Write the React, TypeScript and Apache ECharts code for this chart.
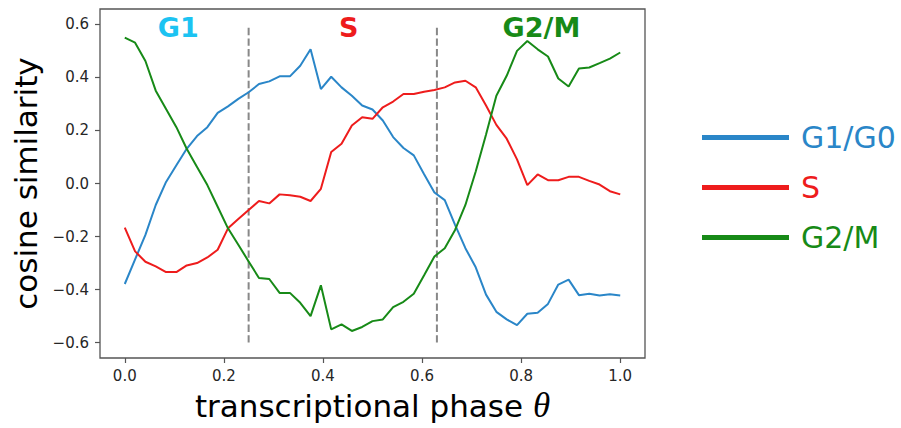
import React, { useEffect, useRef } from "react";
import * as echarts from "echarts";

// Cosine similarity of each cell-cycle signature against transcriptional phase (49 samples on [0, 1])
const g1g0: number[] = [
  -0.379, -0.286, -0.194, -0.081, 0.006, 0.069, 0.131, 0.179, 0.2125, 0.266,
  0.291, 0.319, 0.344, 0.375, 0.385, 0.404, 0.404, 0.444, 0.506, 0.356,
  0.4025, 0.3625, 0.331, 0.294, 0.279, 0.2375, 0.175, 0.134, 0.106, 0.035,
  -0.034, -0.0625, -0.156, -0.244, -0.316, -0.419, -0.484, -0.5125, -0.534, -0.491,
  -0.4875, -0.454, -0.381, -0.3625, -0.421, -0.416, -0.4225, -0.418, -0.4225,
];
const sPhase: number[] = [
  -0.166, -0.256, -0.295, -0.3125, -0.334, -0.334, -0.309, -0.3, -0.279, -0.25,
  -0.169, -0.134, -0.1, -0.066, -0.075, -0.041, -0.044, -0.05, -0.066, -0.02,
  0.119, 0.15, 0.219, 0.25, 0.244, 0.2875, 0.309, 0.3375, 0.3375, 0.346,
  0.3525, 0.3625, 0.381, 0.3875, 0.3625, 0.294, 0.221, 0.169, 0.091, -0.006,
  0.034, 0.0125, 0.0125, 0.025, 0.025, 0.01, -0.004, -0.029, -0.041,
];
const g2m: number[] = [
  0.55, 0.531, 0.462, 0.35, 0.281, 0.2125, 0.131, 0.0625, -0.006, -0.0875,
  -0.169, -0.231, -0.294, -0.356, -0.36, -0.4125, -0.4125, -0.45, -0.5, -0.384,
  -0.55, -0.531, -0.556, -0.541, -0.519, -0.5125, -0.466, -0.446, -0.416, -0.346,
  -0.275, -0.244, -0.175, -0.081, 0.045, 0.185, 0.331, 0.406, 0.5, 0.5375,
  0.506, 0.479, 0.396, 0.366, 0.434, 0.4375, 0.454, 0.471, 0.494,
];
// evenly spaced phase grid
const phase: number[] = g1g0.map((_, i) => i / 48);

const seriesNames = ["G1/G0", "S", "G2/M"];
const seriesColors = ["#2a86c8", "#ee1c1c", "#178a17"];

// phase boundaries (dashed) spanning these similarity values
const boundaries: number[] = [0.25, 0.63];
const boundarySpan: number[] = [-0.6, 0.6];

// phase annotations at the top of the plot
const phaseLabels = ["G1", "S", "G2/M"];
const phaseLabelX: number[] = [0.108, 0.452, 0.841];
const phaseLabelY = 0.59;
const phaseLabelColors = ["#1cc3f2", "#ee1c1c", "#178a17"];

const xTicks: number[] = [0, 0.2, 0.4, 0.6, 0.8, 1.0];
const yTicks: number[] = [-0.6, -0.4, -0.2, 0, 0.2, 0.4, 0.6];

const fmt = (v: number) => v.toFixed(1).replace("-", "\u2212");

export default function App() {
  const ref = useRef<HTMLDivElement>(null);

  useEffect(() => {
    if (!ref.current) return;
    const chart = echarts.init(ref.current, undefined, { renderer: "svg" });
    const frame = "#555555";
    const tickText = { color: "#262626", fontSize: 15, fontFamily: "DejaVu Sans" };

    const dataSeries = [g1g0, sPhase, g2m].map((vals, k) => ({
      name: seriesNames[k],
      type: "line",
      data: vals.map((v, i) => [phase[i], v]),
      showSymbol: false,
      symbol: "none",
      lineStyle: { width: 2, color: seriesColors[k] },
      itemStyle: { color: seriesColors[k] },
      z: 3,
    }));

    const boundarySeries = boundaries.map((b) => ({
      name: "boundary",
      type: "line",
      data: boundarySpan.map((y) => [b, y]),
      symbol: "none",
      lineStyle: { width: 2, color: "#888888", type: [7.4, 3.2] },
      silent: true,
      z: 2,
    }));

    const labelSeries = {
      name: "phases",
      type: "scatter",
      symbolSize: 1,
      itemStyle: { color: "#ffffff", opacity: 1 },
      silent: true,
      data: phaseLabels.map((t, i) => ({
        name: t,
        value: [phaseLabelX[i], phaseLabelY],
        label: {
          show: true,
          position: "inside",
          formatter: t,
          color: phaseLabelColors[i],
          opacity: 1,
          textBorderWidth: 0,
          textBorderColor: "transparent",
          fontSize: 27,
          fontWeight: "bold",
          fontFamily: "DejaVu Sans",
        },
      })),
      z: 4,
    };

    chart.setOption({
      animation: false,
      backgroundColor: "#ffffff",
      grid: {
        left: 100,
        right: 256,
        top: 9,
        bottom: 66,
        show: true,
        borderColor: frame,
        borderWidth: 1.3,
        backgroundColor: "transparent",
      },
      legend: {
        orient: "vertical",
        left: 697,
        top: 117,
        icon: "rect",
        itemWidth: 87,
        itemHeight: 5,
        itemGap: 19,
        data: seriesNames.map((n, k) => ({
          name: n,
          textStyle: { color: seriesColors[k] },
        })),
        textStyle: {
          fontSize: 30,
          lineHeight: 31,
          fontFamily: "DejaVu Sans",
          padding: [0, 0, 0, 7],
        },
      },
      xAxis: {
        type: "value",
        min: -0.05,
        max: 1.05,
        name: "transcriptional phase {t|\u03b8}",
        nameLocation: "middle",
        nameGap: 32,
        nameTextStyle: {
          fontSize: 31,
          lineHeight: 31,
          color: "#000",
          fontFamily: "DejaVu Sans",
          rich: {
            t: {
              fontSize: 35,
              fontStyle: "italic",
              fontFamily: "Liberation Serif",
              color: "#000",
            },
          },
        },
        axisLine: { show: false, onZero: false },
        splitLine: { show: false },
        axisTick: {
          show: true,
          length: 5,
          lineStyle: { color: frame, width: 1.2 },
          customValues: xTicks,
        },
        axisLabel: {
          ...tickText,
          margin: 10,
          customValues: xTicks,
          formatter: (v: number) => fmt(v),
        },
      },
      yAxis: {
        type: "value",
        min: -0.658,
        max: 0.658,
        name: "cosine similarity",
        nameLocation: "middle",
        nameGap: 56,
        nameTextStyle: { fontSize: 31, color: "#000", fontFamily: "DejaVu Sans" },
        axisLine: { show: false, onZero: false },
        splitLine: { show: false },
        axisTick: {
          show: true,
          length: 5,
          lineStyle: { color: frame, width: 1.2 },
          customValues: yTicks,
        },
        axisLabel: {
          ...tickText,
          margin: 11,
          customValues: yTicks,
          formatter: (v: number) => fmt(v),
        },
      },
      series: [...dataSeries, ...boundarySeries, labelSeries],
    });

    return () => chart.dispose();
  }, []);

  return (
    <div
      ref={ref}
      style={{ position: "fixed", left: 0, top: 0, width: 901, height: 428, background: "#fff" }}
    />
  );
}
